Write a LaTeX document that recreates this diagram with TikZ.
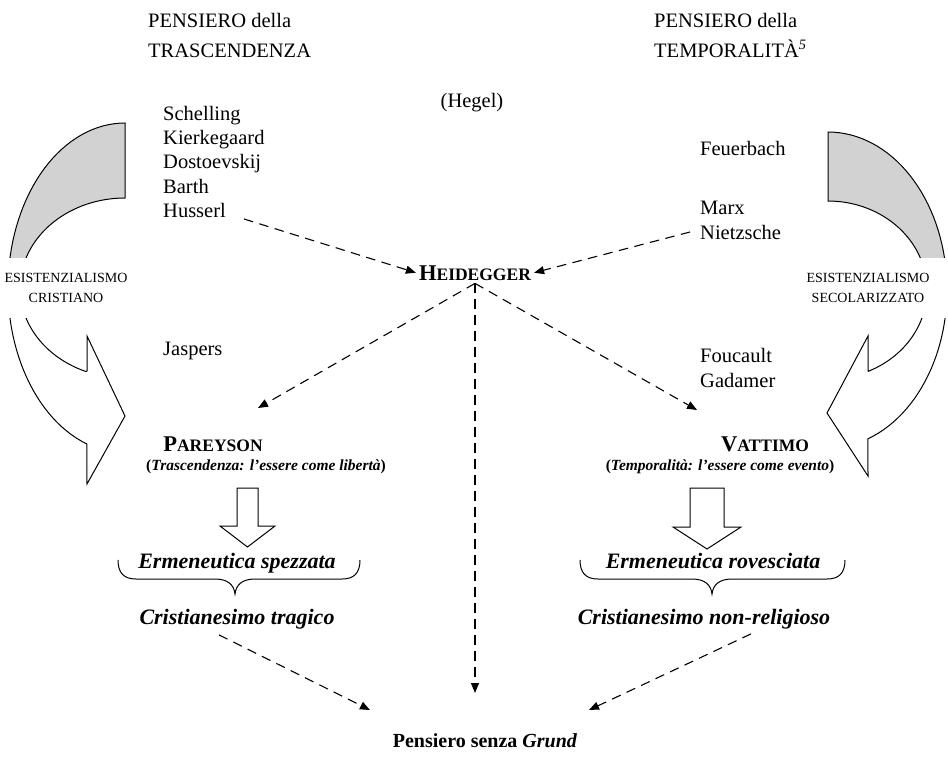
\documentclass[tikz,border=0pt]{standalone}
\usepackage{fontspec}
\setmainfont{Liberation Serif}
\usetikzlibrary{arrows.meta,calc}
\newcommand\mysc[2]{{\fontsize{22.5}{26}\selectfont #1}{\fontsize{17.5}{26}\selectfont #2}}
\def\leftarc{(125,123) -- plot[domain=270:109,samples=60,variable=\t] ({125+117*cos(\t)},{288+165*sin(\t)}) -- (87,484) -- (125,416) -- (87,336) -- (87,371) -- plot[domain=112:270,samples=60,variable=\t] ({125+105*cos(\t)},{288+90*sin(\t)}) -- cycle}
\def\rightarc{(828,132) -- plot[domain=-90:70.4,samples=60,variable=\t] ({828+119*cos(\t)},{290+158*sin(\t)}) -- (868,476) -- (827,413) -- (868,336) -- (868,371) -- plot[domain=66:-90,samples=60,variable=\t] ({828+99*cos(\t)},{290+89*sin(\t)}) -- cycle}
\begin{document}
\begin{tikzpicture}[x=1pt,y=-1pt,
  nm/.style={inner sep=0pt, anchor=base west, font=\fontsize{20.5}{24.5}\selectfont},
  lab/.style={fill=white, inner sep=0pt, align=center, font=\fontsize{14}{20.5}\selectfont},
  bigname/.style={inner sep=0pt, anchor=base, font=\bfseries},
  paren/.style={inner sep=0pt, anchor=base, font=\fontsize{15.5}{18}\selectfont\bfseries},
  bi/.style={inner sep=0pt, anchor=base, font=\fontsize{22}{26}\selectfont\bfseries\itshape},
  dsh/.style={line width=1.1pt, dash pattern=on 9.5pt off 6.5pt, -{Triangle[length=10pt,width=8pt]}},
  hollow/.style={draw, line width=1pt, fill=white},
  brc/.style={line width=1pt},
  carrow/.style={line width=1pt, draw=black}]
\useasboundingbox (0,0) rectangle (948,766);
\fill[white] (0,0) rectangle (948,766);

% curved block arrows
\fill[white] \leftarc;
\begin{scope}\clip (0,0) rectangle (948,258); \fill[gray!35] \leftarc; \end{scope}
\draw[carrow] \leftarc;
\fill[white] \rightarc;
\begin{scope}\clip (0,0) rectangle (948,258); \fill[gray!35] \rightarc; \end{scope}
\draw[carrow] \rightarc;

\node[lab, minimum width=132pt, minimum height=60pt] (labL) at (66,288) {ESISTENZIALISMO\\CRISTIANO};
\node[lab, minimum width=160pt, minimum height=60pt] (labR) at (868,288) {ESISTENZIALISMO\\SECOLARIZZATO};

% headers
\node[nm] (hL1) at (148,27) {PENSIERO della};
\node[nm] (hL2) at (148,57) {TRASCENDENZA};
\node[nm] (hR1) at (654,27) {PENSIERO della};
\node[nm] (hR2) at (654,57) {TEMPORALITÀ\textsuperscript{\itshape 5}};
\node[nm, anchor=base] (hegel) at (472,107) {(Hegel)};

% left list
\node[nm] (schel) at (163,120) {Schelling};
\node[nm] (kierk) at (163,144.3) {Kierkegaard};
\node[nm] (dosto) at (163,168.6) {Dostoevskij};
\node[nm] (barth) at (163,193) {Barth};
\node[nm] (husserl) at (163,217) {Husserl};
\node[nm] (jasp) at (163,355) {Jaspers};

% right list
\node[nm] (feuer) at (700,155) {Feuerbach};
\node[nm] (marx) at (700,214) {Marx};
\node[nm] (nietz) at (700,239) {Nietzsche};
\node[nm] (fouc) at (700,362) {Foucault};
\node[nm] (gada) at (700,387) {Gadamer};

% central names
\node[bigname, inner sep=3pt] (heid) at (475,280) {\mysc{H}{EIDEGGER}};
\node[bigname] (par) at (213,451) {\mysc{P}{AREYSON}};
\node[paren] (parT) at (266,470) {(\textit{Trascendenza: l’essere come libertà})};
\node[bigname] (vat) at (765,451) {\mysc{V}{ATTIMO}};
\node[paren] (vatT) at (720,470) {(\textit{Temporalità: l’essere come evento})};

% hollow arrows
\draw[hollow] (237,488) -- (258,488) -- (258,526) -- (275,526) -- (247.5,547) -- (220,526) -- (237,526) -- cycle;
\draw[hollow] (690,488) -- (724,488) -- (724,527) -- (741,527) -- (707,549) -- (673,527) -- (690,527) -- cycle;

% braces and texts
\node[bi] (ermL) at (237,568) {Ermeneutica spezzata};
\node[bi] (ermR) at (713,568) {Ermeneutica rovesciata};
\draw[brc] (118,560) .. controls (118,573) and (124,579) .. (136,579) -- (215,579) .. controls (228,579) and (234,585) .. (235,594) .. controls (236,585) and (242,579) .. (255,579) -- (342,579) .. controls (354,579) and (360,573) .. (360,560);
\draw[brc] (580,560) .. controls (580,573) and (586,579) .. (598,579) -- (692,579) .. controls (705,579) and (711,585) .. (712,594) .. controls (713,585) and (719,579) .. (732,579) -- (827,579) .. controls (839,579) and (845,573) .. (845,560);
\node[bi] (criL) at (237,624) {Cristianesimo tragico};
\node[bi] (criR) at (704,624) {Cristianesimo non-religioso};

\node[inner sep=2pt, anchor=base, font=\fontsize{20}{24}\selectfont\bfseries] (grund) at (485,747) {Pensiero senza \textit{Grund}};

% dashed connectors
\coordinate (pTip) at (258,408);
\coordinate (vTip) at (697,410);
\coordinate (gV) at (475,693);
\coordinate (gL) at (370,710);
\coordinate (gR) at (589,710);
\draw[dsh] ($(husserl.base east)+(18,2)$) -- (heid.west);
\draw[dsh] ($(nietz.west)+(-10,0)$) -- (heid.east);
\draw[dsh] (heid.south) -- (pTip);
\draw[dsh] (heid.south) -- (vTip);
\draw[dsh] (heid.south) -- (gV);
\draw[dsh] ($(criL.south)+(-18,6)$) -- (gL);
\draw[dsh] ($(criR.south)+(47,5)$) -- (gR);
\end{tikzpicture}
\end{document}
